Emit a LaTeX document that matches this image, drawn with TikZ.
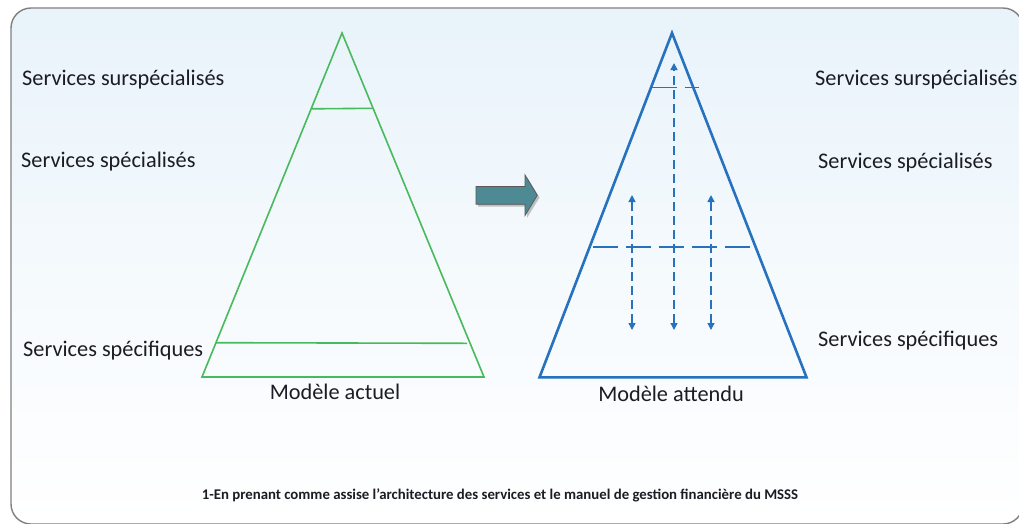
\documentclass[tikz,border=0pt]{standalone}
\usepackage{fontspec}
\setmainfont{Carlito}
\usetikzlibrary{arrows.meta}
\definecolor{pyrgreen}{RGB}{72,186,92}
\definecolor{pyrblue}{RGB}{38,114,190}
\definecolor{arrowteal}{RGB}{78,138,148}
\definecolor{framegray}{RGB}{128,128,128}
\definecolor{bgtop}{RGB}{232,243,250}
\definecolor{txt}{RGB}{28,28,36}
\tikzset{
  lbl/.style={font=\fontsize{22.3}{26}\selectfont, text=txt, inner sep=0pt, anchor=base west},
  caption/.style={font=\fontsize{14.8}{17}\selectfont\bfseries, text=txt, inner sep=0pt, anchor=base},
  greentri/.style={draw=pyrgreen, line width=1.6pt, line join=miter},
  greenrule/.style={draw=pyrgreen, line width=1.6pt},
  bluetri/.style={draw=pyrblue, line width=2.6pt, line join=miter},
  bluerule/.style={draw=pyrblue, line width=2pt, dash pattern=on 25pt off 8pt},
  bluethin/.style={draw=pyrblue, line width=1.2pt, dash pattern=on 25pt off 8pt},
  flow/.style={draw=pyrblue, line width=1.4pt, dash pattern=on 9pt off 5pt,
    {Triangle[width=7pt,length=7pt]}-{Triangle[width=7pt,length=7pt]}},
}
\begin{document}
\begin{tikzpicture}[x=1pt,y=-1pt]
  \useasboundingbox (0,0) rectangle (1019,523);
  \clip (0,0) rectangle (1019,523);
  % frame with pale gradient
  \shade[top color=bgtop, bottom color=white, middle color=bgtop!45!white,
    rounded corners=20pt] (11,8) rectangle (1023,524);
  \draw[framegray, line width=1.4pt, rounded corners=20pt] (11,8) rectangle (1023,524);

  % current model: green pyramid
  \coordinate (ga) at (342,33);
  \coordinate (gl) at (202,377);
  \coordinate (gr) at (484,377);
  \draw[greentri] (ga) -- (gl) -- (gr) -- cycle;
  \coordinate (gu1) at (311.5,108.8);
  \coordinate (gu2) at (373,108.3);
  \draw[greenrule] (gu1) -- (gu2);
  \coordinate (gd1) at (216,342.7);
  \coordinate (gd2) at (467,343.3);
  \draw[greenrule] (gd1) -- (gd2);

  % transition arrow
  \fill[black!45, opacity=0.5] (478,189) -- (527,189) -- (527,177) -- (539.5,197.5) -- (527,218) -- (527,206.5) -- (478,206.5) -- cycle;
  \filldraw[fill=arrowteal, draw=black!65, line width=0.8pt, line join=miter]
    (476,186.5) -- (525,186.5) -- (525,175) -- (537.3,195.3) -- (525,215.5) -- (525,204.3) -- (476,204.3) -- cycle;

  % expected model: blue pyramid
  \coordinate (ba) at (672,33);
  \coordinate (bl) at (539.5,377.3);
  \coordinate (br) at (806.5,377.3);
  \draw[bluetri] (ba) -- (bl) -- (br) -- cycle;
  \coordinate (bu1) at (651.5,87.7);
  \coordinate (bu2) at (698.5,87.7);
  \draw[bluethin] (bu1) -- (bu2);
  \coordinate (bm1) at (592.5,246.7);
  \coordinate (bm2) at (751,246.7);
  \draw[bluerule] (bm1) -- (bm2);
  \coordinate (fct) at (674,63);
  \coordinate (fcb) at (674,330);
  \coordinate (flt) at (632,195);
  \coordinate (flb) at (632,330);
  \coordinate (frt) at (711,195);
  \coordinate (frb) at (711,330);
  \draw[flow] (fcb) -- (fct);
  \draw[flow] (flb) -- (flt);
  \draw[flow] (frb) -- (frt);

  % level labels
  \node[lbl] (lsur) at (22,85) {Services surspécialisés};
  \node[lbl] (lspe) at (21,167.3) {Services spécialisés};
  \node[lbl] (lsfq) at (23,356) {Services spécifiques};
  \node[lbl] (rsur) at (815,85) {Services surspécialisés};
  \node[lbl] (rspe) at (818,168.3) {Services spécialisés};
  \node[lbl] (rsfq) at (818,346) {Services spécifiques};
  \node[lbl, anchor=base] (mact) at (335,399) {Modèle actuel};
  \node[lbl, anchor=base] (matt) at (671,401) {Modèle attendu};
  \node[caption] (cap) at (500,499) {1-En prenant comme assise l’architecture des services et le manuel de gestion financière du MSSS};
\end{tikzpicture}
\end{document}
